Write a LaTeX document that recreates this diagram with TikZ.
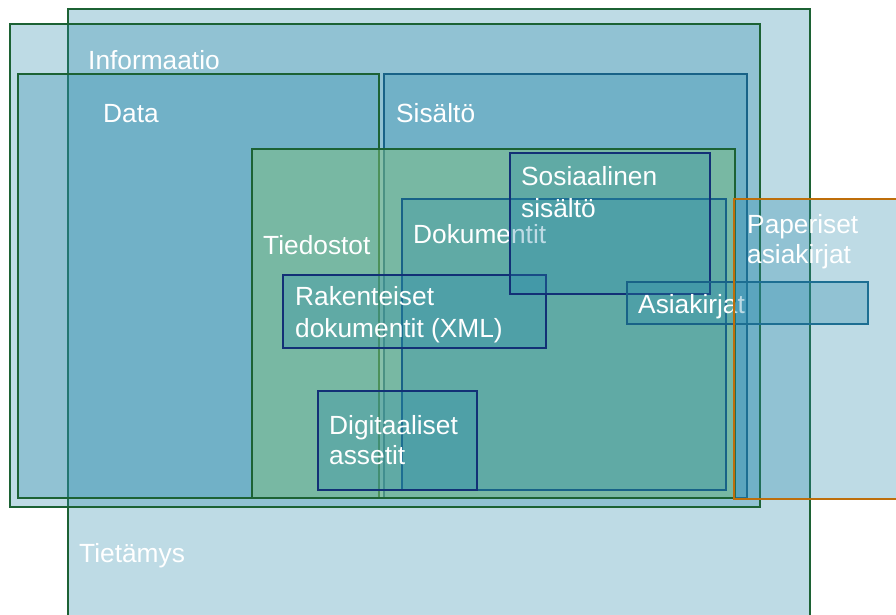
\documentclass[tikz,border=0pt]{standalone}
\usepackage{fontspec}
\setmainfont{Liberation Sans}
\definecolor{setblue}{RGB}{42,138,172}
\definecolor{setgreen}{RGB}{127,192,128}
\definecolor{edgegreen}{RGB}{28,98,52}
\definecolor{edgeblue}{RGB}{24,98,135}
\definecolor{edgenavy}{RGB}{18,48,118}
\definecolor{edgeorange}{RGB}{190,110,10}
\tikzset{
  setbox/.style={fill=setblue, fill opacity=0.3, line width=2.7pt, draw opacity=1},
  greenbox/.style={setbox, draw=edgegreen},
  bluebox/.style={setbox, draw=edgeblue},
  navybox/.style={setbox, draw=edgenavy},
  orangebox/.style={setbox, draw=edgeorange},
  filebox/.style={fill=setgreen, fill opacity=0.5, draw=edgegreen, line width=2.7pt, draw opacity=1},
  lbl/.style={anchor=base west, inner sep=0pt, text=white,
    font=\fontsize{26.3}{30}\selectfont, text opacity=1}
}
\begin{document}
\begin{tikzpicture}[x=1pt, y=-1pt]
\clip (0,0) rectangle (896,614);
\fill[white] (0,0) rectangle (896,614);

% Tietämys
\draw[greenbox] (68,9) rectangle (810,640);
\node[lbl] (tietamys) at (79,562) {Tietämys};

% Informaatio
\draw[greenbox] (10,24) rectangle (760,507);
\node[lbl] (informaatio) at (88,69) {Informaatio};

% Data
\draw[greenbox] (18,74) rectangle (379,498);
\node[lbl] (data) at (103,122) {Data};

% Sisältö
\draw[bluebox] (384,74) rectangle (747,498);
\node[lbl] (sisalto) at (396,122) {Sisältö};

% Tiedostot
\draw[filebox] (252,149) rectangle (735,498);
\node[lbl] (tiedostot) at (263,254) {Tiedostot};

% Dokumentit
\draw[bluebox] (402,199) rectangle (726,490);
\node[lbl] (dokumentit) at (413,243) {Dokumentit};

% Rakenteiset dokumentit (XML)
\draw[navybox] (283,275) rectangle (546,348);
\node[lbl] (rak1) at (295,305) {Rakenteiset};
\node[lbl] (rak2) at (295,337) {dokumentit (XML)};

% Sosiaalinen sisältö
\draw[navybox] (510,153) rectangle (710,294);
\node[lbl] (sos1) at (521,185) {Sosiaalinen};
\node[lbl] (sos2) at (521,217) {sisältö};

% Digitaaliset assetit
\draw[navybox] (318,391) rectangle (477,490);
\node[lbl] (dig1) at (329,434) {Digitaaliset};
\node[lbl] (dig2) at (329,464) {assetit};

% Asiakirjat
\draw[bluebox] (627,282) rectangle (868,324);
\node[lbl] (asiakirjat) at (638,313) {Asiakirjat};

% Paperiset asiakirjat
\draw[orangebox] (734,199) rectangle (930,499);
\node[lbl] (pap1) at (747,233) {Paperiset};
\node[lbl] (pap2) at (747,263) {asiakirjat};
\end{tikzpicture}
\end{document}
